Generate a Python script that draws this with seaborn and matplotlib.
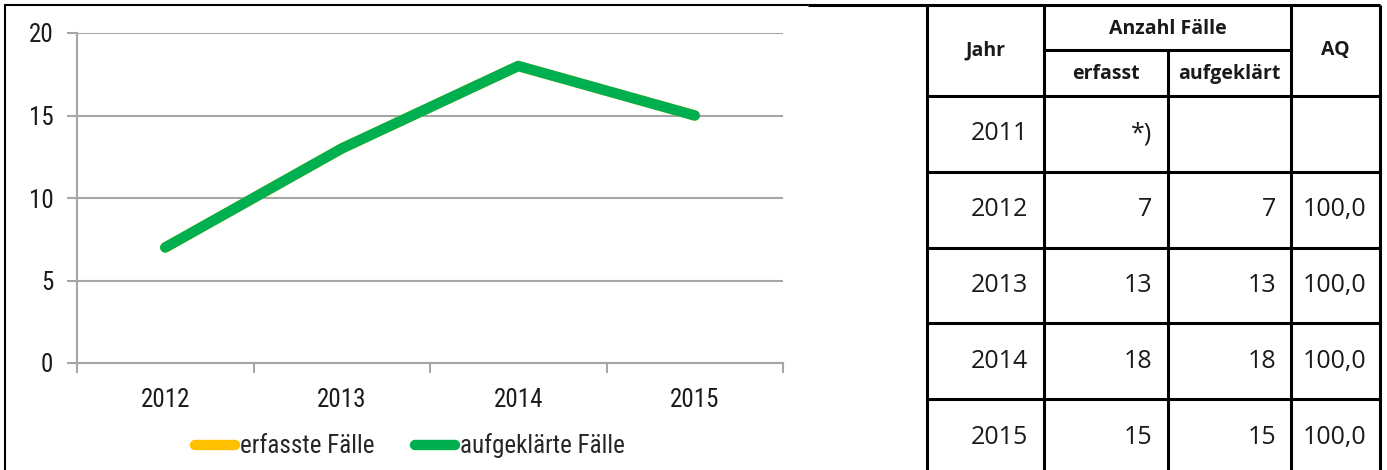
import matplotlib
matplotlib.use("Agg")
import matplotlib.pyplot as plt
import seaborn as sns
import pandas as pd
from matplotlib import font_manager
from matplotlib.lines import Line2D

# ---------------- data ----------------
years_chart = ["2012", "2013", "2014", "2015"]
erfasst_values = [7, 13, 18, 15]
aufgeklaert_values = [7, 13, 18, 15]
series_names = ["erfasste Fälle", "aufgeklärte Fälle"]
series_colors = ["#FFC000", "#00B050"]
y_ticks = [0, 5, 10, 15, 20]

table_years = ["2011", "2012", "2013", "2014", "2015"]
table_erfasst = ["*)", "7", "13", "18", "15"]
table_aufgeklaert = ["", "7", "13", "18", "15"]
table_aq = ["", "100,0", "100,0", "100,0", "100,0"]
header_main = ["Jahr", "Anzahl Fälle", "AQ"]
header_sub = ["erfasst", "aufgeklärt"]

# ---------------- fonts ----------------
fl = font_manager.fontManager.ttflist
avail = {f.name for f in fl}
bold_avail = {f.name for f in fl if (isinstance(f.weight, int) and f.weight >= 600) or str(f.weight) in ("bold", "semibold", "demibold", "heavy", "black")}

def pick(cands, need_bold=False):
    pool = bold_avail if need_bold else avail
    for n in cands:
        if n in pool:
            return n
    return "DejaVu Sans"

chart_font = pick(["Liberation Sans Narrow", "Roboto Condensed", "Open Sans"])
table_font = pick(["Noto Sans", "Open Sans", "Lato", "Roboto"], need_bold=True)

sns.set_theme(style="white")
plt.rcParams["font.family"] = [chart_font, "DejaVu Sans"]

W, H = 1387, 470
fig = plt.figure(figsize=(W / 100, H / 100), dpi=100)

# ---------------- chart ----------------
df = pd.DataFrame({
    "Jahr": years_chart * 2,
    "pos": list(range(len(years_chart))) * 2,
    "Wert": erfasst_values + aufgeklaert_values,
    "Serie": [series_names[0]] * len(years_chart) + [series_names[1]] * len(years_chart),
})

ax = fig.add_axes([77 / W, 1 - 363 / H, (783 - 77) / W, (363 - 33) / H])
sns.lineplot(data=df, x="pos", y="Wert", hue="Serie", palette=series_colors,
             hue_order=series_names, linewidth=7.5, ax=ax, legend=False,
             solid_capstyle="round", solid_joinstyle="round")

ax.set_xlim(-0.5, len(years_chart) - 0.5)
ax.set_ylim(0, 20)
ax.set_yticks(y_ticks)
ax.yaxis.grid(True, color="#A6A6A6", linewidth=1.5)
ax.set_axisbelow(True)
ax.set_xlabel("")
ax.set_ylabel("")
for s in ["top", "right"]:
    ax.spines[s].set_visible(False)
for s in ["left", "bottom"]:
    ax.spines[s].set_color("#A6A6A6")
    ax.spines[s].set_linewidth(1.5)

ax.set_xticks([i - 0.5 for i in range(len(years_chart) + 1)])
ax.set_xticklabels([])
ax.set_xticks(list(range(len(years_chart))), minor=True)
ax.set_xticklabels(years_chart, minor=True)
ax.tick_params(axis="x", which="major", length=7, width=1.5, color="#A6A6A6", direction="out", bottom=True)
ax.tick_params(axis="x", which="minor", length=0, pad=18, labelsize=18, labelcolor="#1a1a1a")
ax.tick_params(axis="y", length=7, width=1.5, color="#A6A6A6", direction="out", left=True,
               pad=10, labelsize=18, labelcolor="#1a1a1a")

# legend
handles = [Line2D([0], [0], color=c, linewidth=7.5, solid_capstyle="round") for c in series_colors]
fig.legend(handles, series_names, loc="center", bbox_to_anchor=(410 / W, 1 - 446 / H),
           ncol=2, frameon=False, fontsize=18, handlelength=1.6, handletextpad=0.2,
           columnspacing=1.6)

# ---------------- frame + table (pixel coordinates) ----------------
ov = fig.add_axes([0, 0, 1, 1], facecolor="none")
ov.set_xlim(0, W)
ov.set_ylim(H, 0)
ov.axis("off")

lk = dict(color="black", linewidth=2.2, solid_capstyle="butt")
ov.plot([5, 5], [5, H], color="black", linewidth=1.5)
ov.plot([5, 808], [5, 5], color="black", linewidth=1.5)

cols = [927, 1044, 1168, 1291, 1380]
top, hdr_mid, hdr_bot = 5, 50, 96
row_h = 75.8
rows = [hdr_bot + i * row_h for i in range(len(table_years) + 1)]

ov.plot([808, cols[-1]], [top, top], **lk)
for j, x in enumerate(cols):
    y0 = hdr_mid if j == 2 else top
    ov.plot([x, x], [y0, H + 5], **lk)
ov.plot([cols[1], cols[3]], [hdr_mid, hdr_mid], **lk)
for y in rows[:-1]:
    ov.plot([cols[0], cols[-1]], [y, y], **lk)

tf = [table_font, "DejaVu Sans"]
hk = dict(family=tf, fontsize=14, fontweight="bold", color="#1a1a1a", va="center", ha="center")
ov.text((cols[0] + cols[1]) / 2, (top + hdr_bot) / 2, header_main[0], **hk)
ov.text((cols[1] + cols[3]) / 2, (top + hdr_mid) / 2 + 1, header_main[1], **hk)
ov.text((cols[3] + cols[4]) / 2, (top + hdr_bot) / 2, header_main[2], **hk)
ov.text((cols[1] + cols[2]) / 2, (hdr_mid + hdr_bot) / 2 + 1, header_sub[0], **hk)
ov.text((cols[2] + cols[3]) / 2, (hdr_mid + hdr_bot) / 2 + 1, header_sub[1], **hk)

dk = dict(family=tf, fontsize=18, color="#1a1a1a", va="center", ha="right")
for i in range(len(table_years)):
    yc = (rows[i] + rows[i + 1]) / 2
    ov.text(cols[1] - 16, yc, table_years[i], **dk)
    ov.text(cols[2] - 16, yc, table_erfasst[i], **dk)
    ov.text(cols[3] - 15, yc, table_aufgeklaert[i], **dk)
    ov.text(cols[4] - 14, yc, table_aq[i], **dk)

fig.savefig("out.png", dpi=100)
